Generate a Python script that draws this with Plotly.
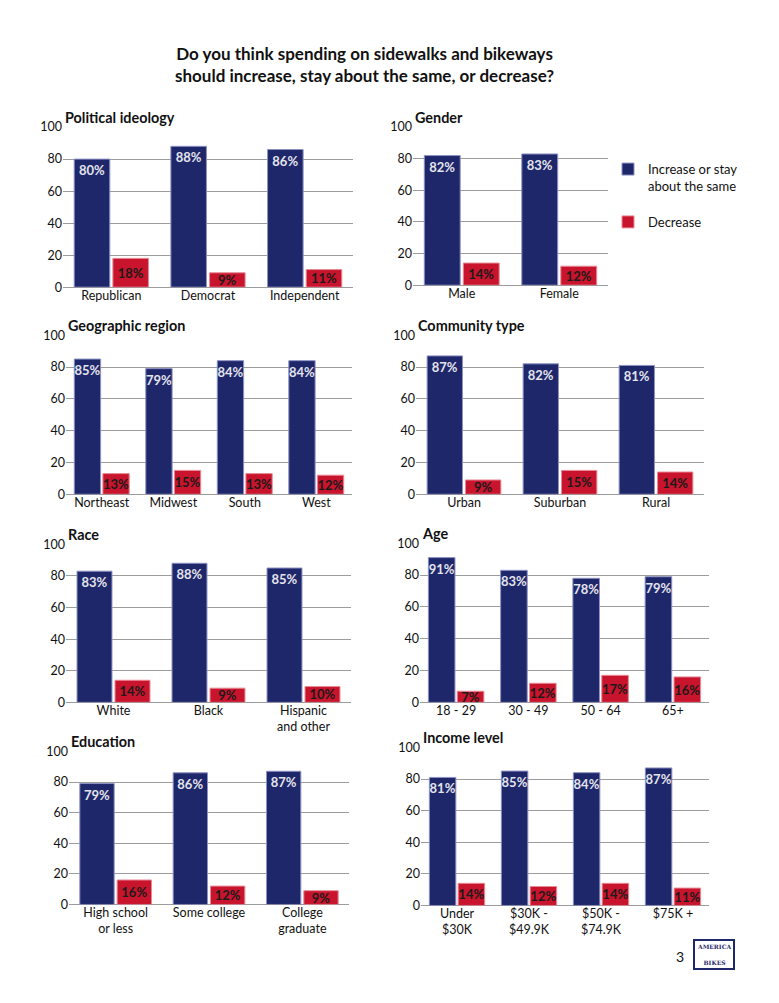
import plotly.graph_objects as go

# ---------------- data ----------------
series_names = ["Increase or stay<br>about the same", "Decrease"]

political_cats = ["Republican", "Democrat", "Independent"]
political_increase = [80, 88, 86]
political_decrease = [18, 9, 11]

gender_cats = ["Male", "Female"]
gender_increase = [82, 83]
gender_decrease = [14, 12]

region_cats = ["Northeast", "Midwest", "South", "West"]
region_increase = [85, 79, 84, 84]
region_decrease = [13, 15, 13, 12]

community_cats = ["Urban", "Suburban", "Rural"]
community_increase = [87, 82, 81]
community_decrease = [9, 15, 14]

race_cats = ["White", "Black", "Hispanic<br>and other"]
race_increase = [83, 88, 85]
race_decrease = [14, 9, 10]

age_cats = ["18 - 29", "30 - 49", "50 - 64", "65+"]
age_increase = [91, 83, 78, 79]
age_decrease = [7, 12, 17, 16]

education_cats = ["High school<br>or less", "Some college", "College<br>graduate"]
education_increase = [79, 86, 87]
education_decrease = [16, 12, 9]

income_cats = ["Under<br>$30K", "$30K -<br>$49.9K", "$50K -<br>$74.9K", "$75K +"]
income_increase = [81, 85, 84, 87]
income_decrease = [14, 12, 14, 11]

y_ticks = [0, 20, 40, 60, 80, 100]

main_title = "Do you think spending on sidewalks and bikeways<br>should increase, stay about the same, or decrease?"

# ---------------- layout helpers ----------------
W, H = 779, 1003
NAVY = "#1f276b"
RED = "#c8142c"
FONT = "Lato"


def px_x(px):
    return px / W


def px_y(px):
    # page-pixel (from top) -> paper fraction, with a small vertical calibration
    return 1 - ((px - 6.94) / 0.9846) / H


# (title, cats, inc, dec, x0px, x1px, ytop_px, ybottom_px)
panels = [
    ("Political ideology", political_cats, political_increase, political_decrease, 63, 353, 126, 286),
    ("Gender", gender_cats, gender_increase, gender_decrease, 413, 608, 126, 284),
    ("Geographic region", region_cats, region_increase, region_decrease, 66, 352, 334, 493),
    ("Community type", community_cats, community_increase, community_decrease, 416, 704, 334, 493),
    ("Race", race_cats, race_increase, race_decrease, 66, 351, 543, 701),
    ("Age", age_cats, age_increase, age_decrease, 420, 709, 542, 701),
    ("Education", education_cats, education_increase, education_decrease, 69, 349, 750, 903),
    ("Income level", income_cats, income_increase, income_decrease, 421, 709, 746, 904),
]

fig = go.Figure()
annotations = []
layout_axes = {}

for i, (title, cats, inc, dec, x0, x1, yt, yb) in enumerate(panels):
    n = i + 1
    xa = "x" if n == 1 else f"x{n}"
    ya = "y" if n == 1 else f"y{n}"
    fig.add_trace(go.Bar(
        x=cats, y=inc, name=series_names[0], xaxis=xa, yaxis=ya,
        marker=dict(color=NAVY, line=dict(color="#8d91c4", width=1)),
        text=[f"{v}%" for v in inc], textposition="inside", insidetextanchor="end",
        constraintext="none", textangle=0,
        textfont=dict(family=FONT, size=13, color="#e4e4ec", weight="bold"),
        showlegend=(i == 0), legendgroup="inc", hoverinfo="skip",
    ))
    fig.add_trace(go.Bar(
        x=cats, y=dec, name=series_names[1], xaxis=xa, yaxis=ya,
        marker=dict(color=RED, line=dict(color="#e88a96", width=1)),
        text=[f"{v}%" for v in dec], textposition="inside", insidetextanchor="middle",
        constraintext="none", textangle=0,
        textfont=dict(family=FONT, size=13, color="#1a1a1a", weight="bold"),
        showlegend=(i == 0), legendgroup="dec", hoverinfo="skip",
    ))
    xkey = "xaxis" if n == 1 else f"xaxis{n}"
    ykey = "yaxis" if n == 1 else f"yaxis{n}"
    layout_axes[xkey] = dict(
        domain=[px_x(x0), px_x(x1)], anchor=ya, type="category",
        showgrid=False, showline=False, zeroline=False, ticks="",
        ticklabelstandoff=-1,
        tickfont=dict(family=FONT, size=12.5, color="#111"),
        fixedrange=True,
    )
    layout_axes[ykey] = dict(
        domain=[px_y(yb), px_y(yt)], anchor=xa, range=[0, 100],
        tickvals=y_ticks, showgrid=True, gridcolor="#9c9c9c", gridwidth=1,
        showline=False, zeroline=True, zerolinecolor="#9c9c9c", zerolinewidth=1,
        ticks="", tickfont=dict(family=FONT, size=12.5, color="#111"),
        fixedrange=True,
    )
    annotations.append(dict(
        text=f"<b>{title}</b>", xref="paper", yref="paper",
        x=px_x(x0), y=px_y(yt - 10), xanchor="left", yanchor="middle",
        showarrow=False, font=dict(family=FONT, size=14.4, color="#111"),
    ))

annotations.append(dict(
    text=f"<b>{main_title}</b>", xref="paper", yref="paper",
    x=px_x(364.5), y=px_y(63), xanchor="center", yanchor="middle", showarrow=False,
    font=dict(family=FONT, size=17, color="#111"),
))
annotations.append(dict(
    text="3", xref="paper", yref="paper", x=px_x(680), y=px_y(955),
    xanchor="center", yanchor="middle", showarrow=False,
    font=dict(family=FONT, size=14, color="#111"),
))
annotations.append(dict(
    text="<b>AMERICA</b><br> <br><b>BIKES</b>", xref="paper", yref="paper",
    x=px_x(714), y=px_y(953), xanchor="center", yanchor="middle", showarrow=False,
    font=dict(family="DejaVu Serif", size=6, color="#1f276b"),
    bordercolor="#1f276b", borderwidth=2, borderpad=2, bgcolor="#ffffff",
))

fig.update_layout(
    width=W, height=H, autosize=False,
    margin=dict(l=0, r=0, t=0, b=0),
    paper_bgcolor="white", plot_bgcolor="white",
    barmode="group", bargap=0.2, bargroupgap=0.08,
    annotations=annotations,
    legend=dict(
        x=px_x(608), y=px_y(153), xanchor="left", yanchor="top",
        font=dict(family=FONT, size=13, color="#111"),
        traceorder="grouped", tracegroupgap=16, valign="top",
        bgcolor="rgba(0,0,0,0)",
    ),
    **layout_axes,
)

fig.write_html(
    "out.html",
    config={"displayModeBar": False, "staticPlot": True},
    post_script=(
        "document.documentElement.style.margin='0px';"
        "document.documentElement.style.padding='0px';"
        "document.documentElement.style.overflow='hidden';"
        "document.body.style.margin='0px';"
        "document.body.style.padding='0px';"
        "document.body.style.overflow='hidden';"
    ),
)
